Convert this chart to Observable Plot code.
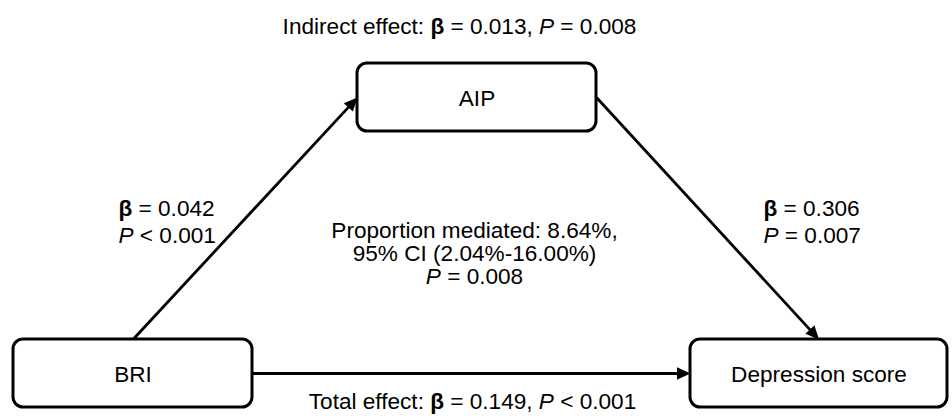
<!DOCTYPE html>
<html>
<head>
<meta charset="utf-8">
<script src="https://cdn.jsdelivr.net/npm/d3@7"></script>
<script src="https://cdn.jsdelivr.net/npm/@observablehq/plot@0.6"></script>
<style>
  html, body { margin: 0; padding: 0; background: #fff; }
  #chart svg { display: block; }
</style>
</head>
<body>
<div id="chart"></div>
<script>
// ---------- data ----------
const nodeNames = ["BRI", "AIP", "Depression score"];
const pathFrom = ["BRI", "AIP", "BRI"];
const pathTo = ["AIP", "Depression score", "Depression score"];
const pathBeta = ["0.042", "0.306"];          // a-path, b-path
const pathP = ["< 0.001", "= 0.007"];
const indirectBeta = "0.013";
const indirectP = "= 0.008";
const totalBeta = "0.149";
const totalP = "< 0.001";
const propMediated = "8.64%";
const propCI = ["2.04%", "16.00%"];
const propP = "= 0.008";

// ---------- layout (pixel space) ----------
const boxLayout = {
  "BRI": {x1: 13, x2: 252, y1: 339, y2: 407},
  "AIP": {x1: 357, x2: 596, y1: 63, y2: 131},
  "Depression score": {x1: 690, x2: 947, y1: 339, y2: 407}
};
const fromSide = ["top", "right", "right"];
const toSide = ["left", "top", "left"];
const FS = 22.6;
const labelLayout = {
  indirect: {x: 459, y: 25},
  a: {x: 118, y: 220},
  b: {x: 763, y: 220},
  mid: {x: 474, y: 253},
  total: {x: 472, y: 400}
};

function anchor(name, side) {
  const b = boxLayout[name];
  const cx = (b.x1 + b.x2) / 2, cy = (b.y1 + b.y2) / 2;
  if (side === "top") return [cx, b.y1];
  if (side === "bottom") return [cx, b.y2];
  if (side === "left") return [b.x1, cy];
  return [b.x2, cy];
}

const boxes = nodeNames.map(n => ({name: n, ...boxLayout[n]}));
const edges = pathFrom.map((f, i) => {
  const [sx, sy] = anchor(f, fromSide[i]);
  const [tx, ty] = anchor(pathTo[i], toSide[i]);
  const dx = tx - sx, dy = ty - sy, len = Math.hypot(dx, dy);
  const ux = dx / len, uy = dy / len;
  return {sx, sy, tx, ty, ex: tx - ux * 8, ey: ty - uy * 8,
          angle: Math.atan2(dx, -dy) * 180 / Math.PI};
});

const arrowHead = {
  draw(ctx) {
    const L = 13.5, w = 6.2;
    ctx.moveTo(0, 0);
    ctx.lineTo(w, L);
    ctx.lineTo(-w, L);
    ctx.closePath();
  }
};

const labels = [
  {...labelLayout.indirect, anchor: "middle", lh: 1.2,
   text: `Indirect effect: **β** = ${indirectBeta}, *P* ${indirectP}`},
  {...labelLayout.a, anchor: "start", lh: 1.2,
   text: `**β** = ${pathBeta[0]}\n*P* ${pathP[0]}`},
  {...labelLayout.b, anchor: "start", lh: 1.2,
   text: `**β** = ${pathBeta[1]}\n*P* ${pathP[1]}`},
  {...labelLayout.total, anchor: "middle", lh: 1.2,
   text: `Total effect: **β** = ${totalBeta}, *P* ${totalP}`}
];
const midLabel = [{...labelLayout.mid,
  text: `Proportion mediated: ${propMediated},\n95% CI (${propCI[0]}-${propCI[1]})\n*P* ${propP}`}];

const font = "'Liberation Sans', Arial, Helvetica, sans-serif";

const chart = Plot.plot({
  width: 952,
  height: 416,
  margin: 0,
  x: {domain: [0, 952], range: [0, 952], axis: null},
  y: {domain: [0, 416], range: [0, 416], axis: null},
  style: {fontFamily: font, background: "#fff"},
  marks: [
    Plot.link(edges, {x1: "sx", y1: "sy", x2: "ex", y2: "ey", stroke: "#000", strokeWidth: 2.8}),
    Plot.dot(edges, {x: "tx", y: "ty", symbol: arrowHead, rotate: "angle", fill: "#000", stroke: "none", r: 5}),
    Plot.rect(boxes, {x1: "x1", x2: "x2", y1: "y1", y2: "y2", rx: 10, fill: "#fff", stroke: "#000", strokeWidth: 3}),
    Plot.text(boxes, {x: d => (d.x1 + d.x2) / 2, y: d => (d.y1 + d.y2) / 2 + 1, text: "name", fontSize: FS, fill: "#000"}),
    ...labels.map(l => Plot.text([l], {x: "x", y: "y", text: "text", textAnchor: l.anchor, lineHeight: l.lh, fontSize: FS, fill: "#000"})),
    Plot.text(midLabel, {x: "x", y: "y", text: "text", lineHeight: 1.02, fontSize: FS, fill: "#000"})
  ]
});

// rich text: **bold**, *italic*
function richify(el) {
  const s = el.textContent;
  if (!s.includes("*")) return;
  while (el.firstChild) el.removeChild(el.firstChild);
  const re = /\*\*(.+?)\*\*|\*(.+?)\*/g;
  let last = 0, m;
  const add = (t, w, st) => {
    const ts = document.createElementNS("http://www.w3.org/2000/svg", "tspan");
    ts.textContent = t;
    if (w) ts.setAttribute("font-weight", "bold");
    if (st) ts.setAttribute("font-style", "italic");
    el.appendChild(ts);
  };
  while ((m = re.exec(s))) {
    if (m.index > last) add(s.slice(last, m.index));
    if (m[1] !== undefined) add(m[1], true, false); else add(m[2], false, true);
    last = re.lastIndex;
  }
  if (last < s.length) add(s.slice(last));
}
chart.querySelectorAll("text").forEach(t => {
  const kids = t.querySelectorAll(":scope > tspan");
  if (kids.length) kids.forEach(richify); else richify(t);
});

document.getElementById("chart").appendChild(chart);
</script>
</body>
</html>
